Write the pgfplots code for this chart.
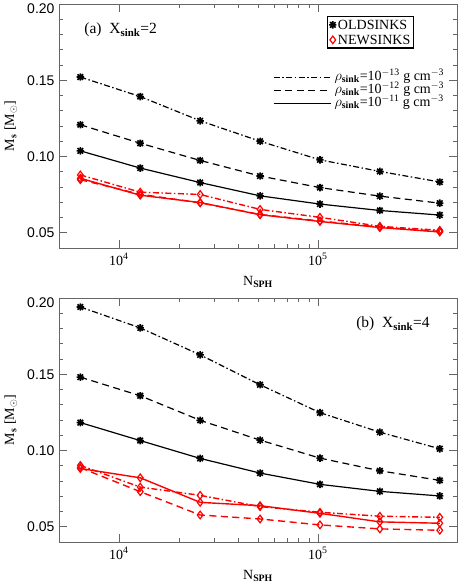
\documentclass[border=0pt]{standalone}
\usepackage{fontspec}
\setmainfont{Liberation Serif}
\setsansfont{Liberation Sans}
\usepackage{pgfplots}
\pgfplotsset{compat=1.18}
\pgfdeclareplotmark{idlast}{%
  \pgfpathmoveto{\pgfqpoint{-\pgfplotmarksize}{0pt}}\pgfpathlineto{\pgfqpoint{\pgfplotmarksize}{0pt}}%
  \pgfpathmoveto{\pgfqpoint{0pt}{-\pgfplotmarksize}}\pgfpathlineto{\pgfqpoint{0pt}{\pgfplotmarksize}}%
  \pgfpathmoveto{\pgfqpoint{-.75\pgfplotmarksize}{-.75\pgfplotmarksize}}\pgfpathlineto{\pgfqpoint{.75\pgfplotmarksize}{.75\pgfplotmarksize}}%
  \pgfpathmoveto{\pgfqpoint{-.75\pgfplotmarksize}{.75\pgfplotmarksize}}\pgfpathlineto{\pgfqpoint{.75\pgfplotmarksize}{-.75\pgfplotmarksize}}%
  \pgfusepathqstroke}
\newcommand\sub[1]{\textsubscript{\bfseries #1}}
\newcommand\fs{\fontsize{14}{15}\selectfont}
\newcommand\fb{\fontsize{15.5}{16}\selectfont}
\tikzset{
  oldm/.style={black,line width=1.2pt,mark=idlast,mark size=3.7pt,mark options={solid,line width=1.6pt}},
  newm/.style={red,line width=1.4pt,mark=diamond,mark size=3.8pt,mark options={solid,fill=white,line width=1.2pt}},
  dd/.style={dash pattern=on 6pt off 2.5pt on 1.5pt off 2.5pt},
  ds/.style={dash pattern=on 7pt off 4.5pt},
}
\begin{document}
\begin{tikzpicture}
\useasboundingbox (0,0) rectangle (469pt,586pt);
% ---------- panel (a)
\begin{axis}[width=398pt,height=244pt,scale only axis,at={(59pt,338pt)},anchor=south west,
    xmode=log,xmin=5000,xmax=500000,ymin=0.04,ymax=0.20,
    xtick={1e4,1e5},xticklabels={10\textsuperscript{4},10\textsuperscript{5}},
    ytick={0.05,0.10,0.15,0.20},yticklabels={0.05,0.10,0.15,\raisebox{-5pt}[\height][\depth]{0.20}},
    minor y tick num=4,
    tick align=inside,
    major tick length=8pt,minor tick length=4pt,
    axis line style={black!60,line width=0.6pt},
    every tick/.style={black!60,line width=0.5pt},
    yticklabel style={font=\sffamily\fs,xshift=-1pt},
    xticklabel style={font=\fs,yshift=-2pt},
    xlabel={N\sub{SPH}},
    ylabel={M\sub{s} [M$_\odot$]},
    xlabel style={font=\fs,at={(axis description cs:0.5,-0.139)},anchor=center},
    ylabel style={font=\fs,at={(axis description cs:-0.121,0.5)},anchor=center},
  legend style={at={(0.892,0.951)},anchor=north east,draw=black,line width=1.4pt,
    font=\fs,inner sep=1.5pt,row sep=1.5pt,
    cells={anchor=west},nodes={inner sep=1.5pt,text height=9.5pt,text depth=1pt}}]
\addlegendimage{only marks,black,mark=idlast,mark size=3.7pt,line width=1.6pt}
\addlegendentry{OLDSINKS}
\addlegendimage{only marks,red,mark=diamond,mark size=3.8pt,line width=1.2pt}
\addlegendentry{NEWSINKS}
\addplot[oldm,dd] coordinates {(6400,0.1521)(12800,0.1393)(25600,0.1234)(51200,0.1100)(102400,0.0978)(204800,0.0902)(409600,0.0833)};
\addplot[oldm,ds] coordinates {(6400,0.1208)(12800,0.1087)(25600,0.0974)(51200,0.0872)(102400,0.0796)(204800,0.0740)(409600,0.0694)};
\addplot[oldm] coordinates {(6400,0.1037)(12800,0.0924)(25600,0.0829)(51200,0.0742)(102400,0.0688)(204800,0.0646)(409600,0.0616)};
\addplot[newm,ds] coordinates {(6400,0.0848)(12800,0.0752)(25600,0.0696)(51200,0.0620)(102400,0.0577)(204800,0.0537)(409600,0.0509)};
\addplot[newm] coordinates {(6400,0.0857)(12800,0.0746)(25600,0.0698)(51200,0.0618)(102400,0.0574)(204800,0.0534)(409600,0.0505)};
\addplot[newm,dd] coordinates {(6400,0.0879)(12800,0.0766)(25600,0.0751)(51200,0.0653)(102400,0.0601)(204800,0.0542)(409600,0.0516)};
\node[anchor=west,font=\fb] at (rel axis cs:0.055,0.893) {(a)\ \ X\sub{sink}=2};
\end{axis}
% line-style legend overlay
\begin{axis}[width=398pt,height=244pt,scale only axis,at={(59pt,338pt)},anchor=south west,
  hide axis,xmin=0,xmax=1,ymin=0,ymax=1,
  legend style={at={(0.968,0.72)},anchor=north east,draw=none,fill=none,
    font=\fs,inner sep=0pt,row sep=3pt,
    cells={anchor=west},nodes={inner sep=0pt,text height=8pt,text depth=2pt}},
  legend image code/.code={\draw[#1] (0pt,0pt) -- (57pt,0pt);}]
\addlegendimage{black,line width=1.2pt,dd}
\addlegendentry{\ $\rho$\sub{sink}=10\textsuperscript{$-$13} g cm\textsuperscript{$-$3}}
\addlegendimage{black,line width=1.2pt,ds}
\addlegendentry{\ $\rho$\sub{sink}=10\textsuperscript{$-$12} g cm\textsuperscript{$-$3}}
\addlegendimage{black,line width=1.2pt}
\addlegendentry{\ $\rho$\sub{sink}=10\textsuperscript{$-$11} g cm\textsuperscript{$-$3}}
\end{axis}
% ---------- panel (b)
\begin{axis}[width=398pt,height=244pt,scale only axis,at={(59pt,44pt)},anchor=south west,
    xmode=log,xmin=5000,xmax=500000,ymin=0.04,ymax=0.20,
    xtick={1e4,1e5},xticklabels={10\textsuperscript{4},10\textsuperscript{5}},
    ytick={0.05,0.10,0.15,0.20},yticklabels={0.05,0.10,0.15,\raisebox{-5pt}[\height][\depth]{0.20}},
    minor y tick num=4,
    tick align=inside,
    major tick length=8pt,minor tick length=4pt,
    axis line style={black!60,line width=0.6pt},
    every tick/.style={black!60,line width=0.5pt},
    yticklabel style={font=\sffamily\fs,xshift=-1pt},
    xticklabel style={font=\fs,yshift=-2pt},
    xlabel={N\sub{SPH}},
    ylabel={M\sub{s} [M$_\odot$]},
    xlabel style={font=\fs,at={(axis description cs:0.5,-0.139)},anchor=center},
    ylabel style={font=\fs,at={(axis description cs:-0.121,0.5)},anchor=center}]
\addplot[oldm,dd] coordinates {(6400,0.1941)(12800,0.1804)(25600,0.1627)(51200,0.1431)(102400,0.1248)(204800,0.1120)(409600,0.1011)};
\addplot[oldm,ds] coordinates {(6400,0.1481)(12800,0.1359)(25600,0.1198)(51200,0.1068)(102400,0.0950)(204800,0.0867)(409600,0.0804)};
\addplot[oldm] coordinates {(6400,0.1183)(12800,0.1065)(25600,0.0948)(51200,0.0852)(102400,0.0778)(204800,0.0732)(409600,0.0702)};
\addplot[newm,ds] coordinates {(6400,0.0887)(12800,0.0730)(25600,0.0577)(51200,0.0551)(102400,0.0512)(204800,0.0486)(409600,0.0477)};
\addplot[newm] coordinates {(6400,0.0882)(12800,0.0821)(25600,0.0660)(51200,0.0638)(102400,0.0588)(204800,0.0532)(409600,0.0523)};
\addplot[newm,dd] coordinates {(6400,0.0902)(12800,0.0760)(25600,0.0706)(51200,0.0632)(102400,0.0595)(204800,0.0569)(409600,0.0562)};
\node[anchor=east,font=\fb] at (rel axis cs:0.94,0.894) {(b)\ \ X\sub{sink}=4};
\end{axis}
\end{tikzpicture}
\end{document}
